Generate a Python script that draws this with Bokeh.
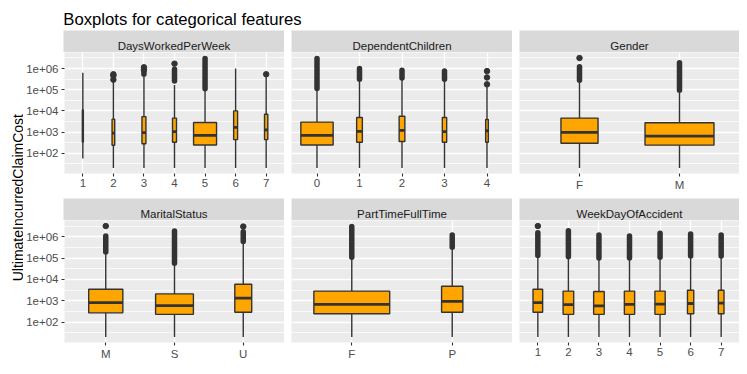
import math
from bokeh.plotting import figure
from bokeh.layouts import row, column
from bokeh.models import (FactorRange, Range1d, FixedTicker, CustomJSTickFormatter,
                          ColumnDataSource, Spacer)
from bokeh.core.properties import value
from bokeh.embed import file_html
from bokeh.resources import INLINE

FONT = "Liberation Sans"

# ---------------- data ----------------
title_text = "Boxplots for categorical features"
y_title = "UltimateIncurredClaimCost"
panel_names = ["DaysWorkedPerWeek", "DependentChildren", "Gender",
               "MaritalStatus", "PartTimeFullTime", "WeekDayOfAccident"]

dw_cats = ["1", "2", "3", "4", "5", "6", "7"]
dw_n = [96, 670, 1490, 1490, 50000, 1490, 1030]
dw_low = [56, 20, 20, 20, 20, 20, 20]
dw_q1 = [340, 237, 280, 330, 245, 440, 440]
dw_med = [2190, 890, 930, 1050, 690, 1660, 1260]
dw_q3 = [11200, 4070, 5370, 4570, 2820, 10000, 6920]
dw_high = [631000, 240000, 400000, 166000, 95500, 1000000, 400000]
dw_out_lo = [None, None, 540000, 257000, 112000, None, None]
dw_out_hi = [None, None, 740000, 930000, 3000000, None, None]
dw_out_pts = [[], [540000, 460000, 300000], [1150000, 890000], [1700000], [], [], [540000]]

dc_cats = ["0", "1", "2", "3", "4"]
dc_n = [51000, 1590, 1590, 920, 350]
dc_low = [20, 20, 20, 20, 20]
dc_q1 = [245, 330, 355, 330, 330]
dc_med = [690, 1070, 1200, 1050, 1150]
dc_q3 = [2950, 4900, 5620, 4900, 3890]
dc_high = [100000, 251000, 316000, 263000, 138000]
dc_out_lo = [115000, 309000, 363000, 309000, None]
dc_out_hi = [3000000, 1000000, 832000, 776000, None]
dc_out_pts = [[], [], [], [], [760000, 380000, 180000]]

g_cats = ["F", "M"]
g_n = [12150, 42000]
g_low = [20, 20]
g_q1 = [295, 240]
g_med = [955, 645]
g_q3 = [4570, 2750]
g_high = [240000, 75000]
g_out_lo = [282000, 93300]
g_out_hi = [1230000, 1910000]
g_out_pts = [[3160000], []]

m_cats = ["M", "S", "U"]
m_n = [21800, 26700, 5340]
m_low = [20, 20, 20]
m_q1 = [270, 230, 290]
m_med = [810, 590, 1320]
m_q3 = [3470, 2090, 5890]
m_high = [158000, 50000, 500000]
m_out_lo = [191000, 57500, 603000]
m_out_hi = [1070000, 1860000, 1700000]
m_out_pts = [[3160000], [], [3000000]]

pt_cats = ["F", "P"]
pt_n = [50300, 3970]
pt_low = [20, 20]
pt_q1 = [245, 290]
pt_med = [675, 930]
pt_q3 = [2820, 4790]
pt_high = [95500, 251000]
pt_out_lo = [110000, 324000]
pt_out_hi = [3000000, 1200000]
pt_out_pts = [[], []]

wd_cats = ["1", "2", "3", "4", "5", "6", "7"]
wd_n = [8760, 10630, 10630, 9970, 9970, 3750, 3020]
wd_low = [20, 20, 20, 20, 20, 20, 20]
wd_q1 = [290, 230, 230, 230, 230, 245, 245]
wd_med = [810, 660, 575, 675, 690, 740, 775]
wd_q3 = [3470, 2820, 2700, 2820, 2820, 3090, 3090]
wd_high = [112000, 97700, 85100, 85100, 93300, 105000, 105000]
wd_out_lo = [132000, 115000, 100000, 100000, 110000, 123000, 123000]
wd_out_hi = [1550000, 1910000, 1200000, 1070000, 1450000, 1350000, 1200000]
wd_out_pts = [[3160000], [], [], [], [], [], []]

y_major = [1e2, 1e3, 1e4, 1e5, 1e6]

# ---------------- styling ----------------
PANEL_BG = "#EBEBEB"
STRIP_BG = "#D9D9D9"
DARK = "#333333"
BOX_FILL = "#FFA500"
AXIS_TXT = "#4D4D4D"

panels = [
    (dw_cats, dw_n, dw_low, dw_q1, dw_med, dw_q3, dw_high, dw_out_lo, dw_out_hi, dw_out_pts),
    (dc_cats, dc_n, dc_low, dc_q1, dc_med, dc_q3, dc_high, dc_out_lo, dc_out_hi, dc_out_pts),
    (g_cats, g_n, g_low, g_q1, g_med, g_q3, g_high, g_out_lo, g_out_hi, g_out_pts),
    (m_cats, m_n, m_low, m_q1, m_med, m_q3, m_high, m_out_lo, m_out_hi, m_out_pts),
    (pt_cats, pt_n, pt_low, pt_q1, pt_med, pt_q3, pt_high, pt_out_lo, pt_out_hi, pt_out_pts),
    (wd_cats, wd_n, wd_low, wd_q1, wd_med, wd_q3, wd_high, wd_out_lo, wd_out_hi, wd_out_pts),
]

# y range like ggplot: 5% expansion on log scale
all_vals = []
for pd_ in panels:
    all_vals += list(pd_[2]) + list(pd_[6])
    all_vals += [v for v in pd_[8] if v is not None]
    for pts in pd_[9]:
        all_vals += pts
L = math.log10(min(all_vals))
H = math.log10(max(all_vals))
pad = 0.05 * (H - L)
Y0, Y1 = 10 ** (L - pad), 10 ** (H + pad)
minor = [10 ** (k + 0.5) for k in range(0, 8) if L - pad < k + 0.5 < H + pad]

n_max = max(max(pd_[1]) for pd_ in panels)
BOX_W = 0.76

fmt = CustomJSTickFormatter(code="""
const e = Math.round(Math.log10(tick));
return "1e+" + (e < 10 ? "0" + e : "" + e);
""")


def make_panel(data, show_y, fig_w, border_left, fig_h, border_bottom):
    cats, n, lo, q1, med, q3, hi, olo, ohi, opts = data
    xr = FactorRange(factors=cats, range_padding=0.1, range_padding_units="absolute")
    p = figure(width=fig_w, height=fig_h, x_range=xr, y_range=Range1d(Y0, Y1),
               y_axis_type="log", y_axis_location="left" if show_y else None,
               output_backend="svg", toolbar_location=None,
               min_border_left=border_left, min_border_right=0,
               min_border_top=0, min_border_bottom=border_bottom)
    p.background_fill_color = PANEL_BG
    p.border_fill_color = "white"
    p.outline_line_color = None

    ticker = FixedTicker(ticks=y_major, minor_ticks=minor)
    p.ygrid.ticker = ticker
    p.ygrid.grid_line_color = "white"
    p.ygrid.grid_line_width = 1.3
    p.ygrid.minor_grid_line_color = "white"
    p.ygrid.minor_grid_line_width = 0.7
    p.xgrid.grid_line_color = "white"
    p.xgrid.grid_line_width = 1.3

    if show_y:
        ax = p.yaxis[0]
        ax.ticker = ticker
        ax.formatter = fmt
        ax.axis_line_color = None
        ax.major_tick_line_color = DARK
        ax.major_tick_line_width = 1.1
        ax.major_tick_out = 3
        ax.major_tick_in = 0
        ax.minor_tick_line_color = None
        ax.major_label_standoff = 2
        ax.major_label_text_font = FONT
        ax.major_label_text_font_size = "11.5px"
        ax.major_label_text_color = AXIS_TXT

    xa = p.xaxis[0]
    xa.axis_line_color = None
    xa.major_tick_line_color = DARK
    xa.major_tick_line_width = 1.1
    xa.major_tick_out = 3
    xa.major_tick_in = 0
    xa.minor_tick_line_color = None
    xa.major_label_standoff = 2
    xa.major_label_text_font = FONT
    xa.major_label_text_font_size = "11.5px"
    xa.major_label_text_color = AXIS_TXT

    widths = [BOX_W * math.sqrt(k / n_max) for k in n]
    src = ColumnDataSource(dict(
        x=cats, w=widths, lo=lo, q1=q1, med=med, q3=q3, hi=hi,
        x0=[(c, -w / 2) for c, w in zip(cats, widths)],
        x1=[(c, w / 2) for c, w in zip(cats, widths)],
    ))
    # whiskers
    p.segment(x0="x", x1="x", y0="lo", y1="hi", source=src, line_color=DARK, line_width=1.4)
    # boxes
    p.vbar(x="x", width="w", bottom="q1", top="q3", source=src,
           fill_color=BOX_FILL, line_color=DARK, line_width=1.4)
    # medians
    p.segment(x0="x0", x1="x1", y0="med", y1="med", source=src,
              line_color=DARK, line_width=2.8)
    # dense outlier runs
    cx = [c for c, a in zip(cats, olo) if a is not None]
    clo = [a for a in olo if a is not None]
    chi = [b for b in ohi if b is not None]
    if cx:
        p.segment(x0=cx, x1=cx, y0=clo, y1=chi, line_color=DARK,
                  line_width=5.5, line_cap="round")
    # isolated outliers
    px, py = [], []
    for c, pts in zip(cats, opts):
        for v in pts:
            px.append(c)
            py.append(v)
    if px:
        p.scatter(x=px, y=py, size=5.5, fill_color=DARK, line_color=DARK)
    return p


def make_strip(name, w):
    s = figure(width=w, height=22, x_range=Range1d(0, w), y_range=Range1d(0, 22),
               x_axis_location=None, y_axis_location=None,
               output_backend="svg", toolbar_location=None, min_border=0)
    s.grid.visible = False
    s.background_fill_color = STRIP_BG
    s.border_fill_color = STRIP_BG
    s.outline_line_color = None
    s.text(x=[w / 2], y=[6.5], text=[name], text_align="center",
           text_baseline="alphabetic", text_font=value(FONT),
           text_font_size="11.5px", text_color="#1A1A1A")
    return s


W1, W2, W3 = 221, 221, 220
LEFT = 40
GAP = 7
YLAB_W = 23
TITLE_H = 30
TOTAL_W = YLAB_W + LEFT + W1 + GAP + W2 + GAP + W3

title_fig = figure(width=TOTAL_W, height=TITLE_H,
                   x_range=Range1d(0, TOTAL_W), y_range=Range1d(0, TITLE_H),
                   x_axis_location=None, y_axis_location=None,
                   output_backend="svg", toolbar_location=None, min_border=0)
title_fig.grid.visible = False
title_fig.outline_line_color = None
title_fig.text(x=[62.8], y=[11.5], text=[title_text], text_align="left",
               text_baseline="alphabetic", text_font=value(FONT),
               text_font_size="16.7px", text_color="black")

ylab_fig = figure(width=YLAB_W, height=336, x_range=Range1d(0, YLAB_W), y_range=Range1d(0, 336),
                  x_axis_location=None, y_axis_location=None,
                  output_backend="svg", toolbar_location=None, min_border=0)
ylab_fig.grid.visible = False
ylab_fig.outline_line_color = None
ylab_fig.text(x=[17.3], y=[336 - (197.2 - 30)], text=[y_title], angle=math.pi / 2,
              text_align="center", text_baseline="alphabetic", text_font=value(FONT),
              text_font_size="14px", text_color="black")


def strip_row(names):
    return row(Spacer(width=LEFT, height=22), make_strip(names[0], W1),
               Spacer(width=GAP, height=22), make_strip(names[1], W2),
               Spacer(width=GAP, height=22), make_strip(names[2], W3))


def panel_row(datas, fig_h, bb):
    return row(make_panel(datas[0], True, LEFT + W1, LEFT, fig_h, bb),
               make_panel(datas[1], False, GAP + W2, GAP, fig_h, bb),
               make_panel(datas[2], False, GAP + W3, GAP, fig_h, bb))


grid = column(strip_row(panel_names[:3]), panel_row(panels[:3], 146, 25),
              strip_row(panel_names[3:]), panel_row(panels[3:], 146, 24))
layout = column(title_fig, row(ylab_fig, grid))

open("out.html", "w").write(file_html(layout, INLINE))
